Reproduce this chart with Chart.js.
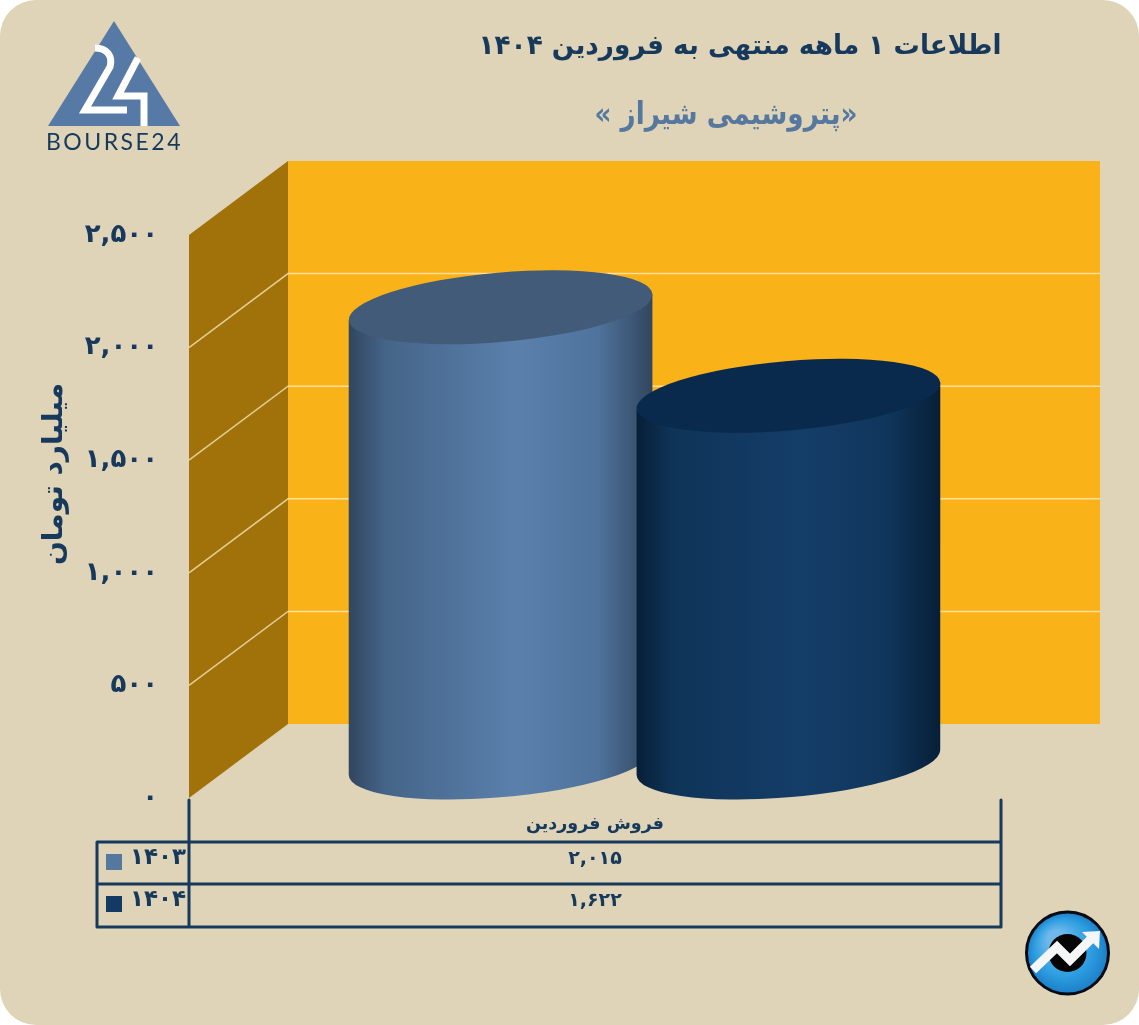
<!DOCTYPE html>
<html>
<head>
<meta charset="utf-8">
<style>
  html, body { margin: 0; padding: 0; background: #fff; }
  canvas { display: block; }
</style>
</head>
<body>
<canvas id="chart" dir="rtl" width="1139" height="1025"></canvas>
<script src="https://cdn.jsdelivr.net/npm/chart.js@4"></script>
<script>
// data
const categories = ['فروش فروردین'];
const seriesNames = ['۱۴۰۳', '۱۴۰۴'];
const sales1403 = [2015];
const sales1404 = [1622];
const valueLabels1403 = ['۲,۰۱۵'];
const valueLabels1404 = ['۱,۶۲۲'];
const yTicks = ['۰', '۵۰۰', '۱,۰۰۰', '۱,۵۰۰', '۲,۰۰۰', '۲,۵۰۰'];
const titleText = 'اطلاعات ۱ ماهه منتهی به فروردین ۱۴۰۴';
const subtitleText = '«پتروشیمی شیراز »';
const yAxisTitle = 'میلیارد تومان';

const FONT = '"DejaVu Sans", sans-serif';
const NAVY = '#17395c';
const BLUE = '#56789f';

// offset of the back wall from the front plane
const depthX = 99;
const depthY = -74;

const cylinderLooks = [
  { top: '#425b79', stops: ['#31465f', '#456488', '#5a80ac', '#4f739c', '#32465f'] },
  { top: '#0a2a4d', stops: ['#071f38', '#0f3458', '#143d68', '#10365c', '#071f38'] }
];

function drawText(ctx, text, x, y, font, color, align, maxWidth) {
  ctx.font = font;
  ctx.fillStyle = color;
  ctx.textAlign = align || 'center';
  ctx.textBaseline = 'middle';
  if (maxWidth) ctx.fillText(text, x, y, maxWidth);
  else ctx.fillText(text, x, y);
}

function drawPanel(ctx, w, h) {
  ctx.fillStyle = '#dfd4b8';
  ctx.beginPath();
  ctx.roundRect(0, 0, w, h, 36);
  ctx.fill();
}

function drawLogo(ctx) {
  ctx.fillStyle = '#5679a6';
  ctx.beginPath();
  ctx.moveTo(114, 21);
  ctx.lineTo(180, 126);
  ctx.lineTo(48, 126);
  ctx.closePath();
  ctx.fill();

  ctx.strokeStyle = '#fff';
  ctx.lineWidth = 7;
  ctx.lineJoin = 'miter';
  ctx.beginPath();
  ctx.moveTo(95, 48);
  ctx.bezierCurveTo(107, 48, 113, 56, 110, 67);
  ctx.lineTo(85, 110);
  ctx.lineTo(127, 110);
  ctx.stroke();
  ctx.beginPath();
  ctx.moveTo(138, 58);
  ctx.lineTo(118, 96);
  ctx.lineTo(144, 96);
  ctx.lineTo(144, 126);
  ctx.stroke();

  ctx.save();
  ctx.direction = 'ltr';
  ctx.letterSpacing = '2.5px';
  drawText(ctx, 'BOURSE24', 46, 143, '23px Lato, sans-serif', NAVY, 'left');
  ctx.restore();
}

function drawBadge(ctx) {
  const cx = 1067.5, cy = 953, r = 41;
  const g = ctx.createRadialGradient(cx - 12, cy - 14, 8, cx, cy, r);
  g.addColorStop(0, '#6fb9ea');
  g.addColorStop(0.6, '#2f9fe2');
  g.addColorStop(1, '#1b7fc8');
  ctx.fillStyle = g;
  ctx.strokeStyle = '#050a14';
  ctx.lineWidth = 3;
  ctx.beginPath();
  ctx.arc(cx, cy, r, 0, Math.PI * 2);
  ctx.fill();
  ctx.stroke();

  ctx.fillStyle = '#050505';
  ctx.beginPath();
  ctx.arc(cx, cy, 19, 0, Math.PI * 2);
  ctx.fill();

  ctx.strokeStyle = '#f4f6f8';
  ctx.lineWidth = 9;
  ctx.lineJoin = 'miter';
  ctx.beginPath();
  ctx.moveTo(1033, 970);
  ctx.lineTo(1057, 947);
  ctx.lineTo(1070, 960);
  ctx.lineTo(1091, 939);
  ctx.stroke();
  ctx.fillStyle = '#f4f6f8';
  ctx.beginPath();
  ctx.moveTo(1082, 932);
  ctx.lineTo(1100, 931);
  ctx.lineTo(1099, 949);
  ctx.closePath();
  ctx.fill();
}

// yellow back wall, brown side wall, and the gridlines on both
function drawWalls(chart) {
  const { ctx, chartArea: a, scales: { y } } = chart;
  ctx.save();
  ctx.fillStyle = '#fab219';
  ctx.fillRect(a.left + depthX, a.top + depthY, a.width, a.height);
  ctx.fillStyle = '#a07209';
  ctx.beginPath();
  ctx.moveTo(a.left, a.top);
  ctx.lineTo(a.left + depthX, a.top + depthY);
  ctx.lineTo(a.left + depthX, a.bottom + depthY);
  ctx.lineTo(a.left, a.bottom);
  ctx.closePath();
  ctx.fill();

  ctx.strokeStyle = 'rgba(255, 240, 205, 0.72)';
  ctx.lineWidth = 1.5;
  y.ticks.forEach(t => {
    if (t.value === 0 || t.value === y.max) return;
    const py = y.getPixelForValue(t.value);
    ctx.beginPath();
    ctx.moveTo(a.left, py);
    ctx.lineTo(a.left + depthX, py + depthY);
    ctx.lineTo(a.right + depthX, py + depthY);
    ctx.stroke();
  });
  ctx.restore();
}

// a cylinder standing in the middle of the depth, sized from the bar element
function drawCylinder(ctx, el, look) {
  const tilt = -0.0866;
  const rx = el.width / 2 + 0.5;
  const ry = 34.7;
  const tangent = 0.02;
  const cx = el.x + depthX / 2;
  const topY = el.y + depthY / 2;
  const baseY = el.base + depthY / 2 + 1.5;
  const edgeY = rx * Math.sin(tilt);
  const left = cx - el.width / 2;
  const right = cx + el.width / 2;

  const g = ctx.createLinearGradient(left, 0, right, 0);
  [0, 0.12, 0.55, 0.82, 1].forEach((p, i) => g.addColorStop(p, look.stops[i]));
  ctx.fillStyle = g;
  ctx.beginPath();
  ctx.moveTo(left, topY - edgeY);
  ctx.lineTo(left, baseY - edgeY);
  ctx.ellipse(cx, baseY, rx, ry, tilt, Math.PI + tangent, tangent, true);
  ctx.lineTo(right, topY + edgeY);
  ctx.closePath();
  ctx.fill();

  ctx.fillStyle = look.top;
  ctx.beginPath();
  ctx.ellipse(cx, topY, rx, ry, tilt, 0, Math.PI * 2);
  ctx.fill();
}

// the table under the plot: legend swatches, series names and values
function drawDataTable(chart) {
  const { ctx, chartArea: a } = chart;
  const rows = [842, 884, 927];
  const tableLeft = 97;
  ctx.save();
  ctx.strokeStyle = NAVY;
  ctx.lineWidth = 3;
  ctx.lineJoin = 'round';
  ctx.lineCap = 'round';
  ctx.beginPath();
  rows.forEach(r => {
    ctx.moveTo(tableLeft, r);
    ctx.lineTo(a.right, r);
  });
  ctx.moveTo(tableLeft, rows[0]);
  ctx.lineTo(tableLeft, rows[2]);
  ctx.moveTo(a.left, a.bottom + 2);
  ctx.lineTo(a.left, rows[2]);
  ctx.moveTo(a.right, a.bottom + 2);
  ctx.lineTo(a.right, rows[2]);
  ctx.stroke();

  const values = [valueLabels1403[0], valueLabels1404[0]];
  chart.data.datasets.forEach((ds, i) => {
    ctx.fillStyle = ds.backgroundColor;
    ctx.fillRect(106, rows[i] + 12, 16, 16);
    drawText(ctx, seriesNames[i], 158, rows[i] + 16, 'bold 23px ' + FONT, NAVY);
    drawText(ctx, values[i], (a.left + a.right) / 2, rows[i] + 17, 'bold 19px ' + FONT, NAVY);
  });
  ctx.restore();
}

const sceneryPlugin = {
  id: 'scenery',
  beforeDraw(chart) {
    const ctx = chart.ctx;
    ctx.save();
    drawPanel(ctx, chart.width, chart.height);
    drawLogo(ctx);
    drawBadge(ctx);
    drawText(ctx, titleText, 740, 47, 'bold 27px ' + FONT, NAVY, 'center', 523);
    drawText(ctx, subtitleText, 726, 116, 'bold 31px ' + FONT, BLUE, 'center', 263);
    ctx.translate(55, 474);
    ctx.rotate(-Math.PI / 2);
    drawText(ctx, yAxisTitle, 0, 0, 'bold 28px ' + FONT, NAVY);
    ctx.restore();
    drawWalls(chart);
  },
  // the native flat bars are replaced by cylinders
  beforeDatasetDraw() {
    return false;
  },
  afterDatasetsDraw(chart) {
    chart.data.datasets.forEach((ds, i) => {
      chart.getDatasetMeta(i).data.forEach(el => {
        drawCylinder(chart.ctx, el, cylinderLooks[i]);
      });
    });
  },
  afterDraw(chart) {
    drawDataTable(chart);
  }
};

new Chart(document.getElementById('chart'), {
  type: 'bar',
  plugins: [sceneryPlugin],
  data: {
    labels: categories,
    datasets: [
      { label: seriesNames[0], data: sales1403, backgroundColor: '#56789f' },
      { label: seriesNames[1], data: sales1404, backgroundColor: '#133a63' }
    ]
  },
  options: {
    responsive: false,
    animation: false,
    layout: { padding: { left: 40, right: 138, top: 235, bottom: 0 } },
    plugins: {
      legend: { display: false },
      tooltip: { enabled: false }
    },
    datasets: { bar: { categoryPercentage: 0.709, barPercentage: 1.055 } },
    scales: {
      x: {
        grid: { display: false, drawTicks: false },
        border: { display: false },
        afterFit(scale) { scale.height = 227; },
        ticks: {
          padding: 16,
          color: NAVY,
          font: { family: FONT, size: 17.5, weight: 'bold' }
        }
      },
      y: {
        min: 0,
        max: 2500,
        grid: { display: false, drawTicks: false },
        border: { display: false },
        afterFit(scale) { scale.width = 149; },
        ticks: {
          stepSize: 500,
          padding: 31,
          color: NAVY,
          font: { family: FONT, size: 26, weight: 'bold' },
          callback: (value, index) => yTicks[index]
        }
      }
    }
  }
});
</script>
</body>
</html>
